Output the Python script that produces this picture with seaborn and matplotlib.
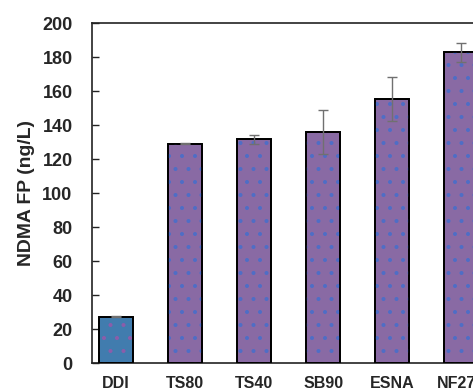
import matplotlib
matplotlib.use("Agg")
import matplotlib.pyplot as plt
import seaborn as sns
import pandas as pd

categories = ["DDI", "TS80", "TS40", "SB90", "ESNA", "NF270"]
values = [27.3, 129.0, 131.5, 135.9, 155.3, 182.9]
errors = [0.5, 0.4, 2.6, 12.7, 13.2, 5.6]
groups = ["DDI", "m", "m", "m", "m", "m"]

face_colors = {"DDI": "#2F7DC0", "m": "#8A61AD"}
dot_colors = {"DDI": "#8B5DAA", "m": "#4F6EC6"}

DPI = 78
k = 100 / DPI  # keep pixel sizes as designed for 100 dpi

sns.set_theme(style="white")
plt.rcParams["font.family"] = ["Liberation Sans", "DejaVu Sans"]
plt.rcParams["hatch.linewidth"] = 1.0 * k

df = pd.DataFrame({"cat": categories, "val": values, "grp": groups})

fig = plt.figure(figsize=(473 / DPI, 390 / DPI), dpi=DPI)
ax = fig.add_axes([0.1945, 0.0692, 0.8315, 0.8718])

sns.barplot(data=df, x="cat", y="val", hue="grp", palette=face_colors,
            dodge=False, width=0.5, edgecolor="black", linewidth=1.3 * k,
            legend=False, errorbar=None, ax=ax, zorder=2)

# dotted overlay
for p, g in zip(sorted(ax.patches, key=lambda r: r.get_x()), groups):
    if p.get_height() == 0:
        continue
    ov = plt.Rectangle((p.get_x(), p.get_y()), p.get_width(), p.get_height(),
                       facecolor="none", edgecolor=dot_colors[g], hatch=".",
                       linewidth=0, zorder=2.5)
    ax.add_patch(ov)
    ax.add_patch(plt.Rectangle((p.get_x(), p.get_y()), p.get_width(), p.get_height(),
                               facecolor="none", edgecolor="black", linewidth=1.3 * k,
                               zorder=2.6))

ax.errorbar(x=list(range(len(categories))), y=values, yerr=errors, fmt="none",
            ecolor="#707070", elinewidth=1.0 * k, capsize=3.5 * k, capthick=1.0 * k,
            zorder=3)

ax.set_xlim(-0.35, 5.35)
ax.set_ylim(0, 200)
ax.set_yticks(range(0, 201, 20))
ax.set_xlabel("")
ax.set_ylabel("NDMA FP (ng/L)", fontsize=14 * k, fontweight="bold")
ax.yaxis.set_label_coords(-0.145, 0.5)
ax.tick_params(axis="y", direction="in", length=5 * k, width=1 * k, pad=14 * k,
               labelsize=13 * k, left=True, color="#222222")
ax.tick_params(axis="x", length=0, pad=9 * k, labelsize=11.5 * k)
for lab in ax.get_xticklabels() + ax.get_yticklabels():
    lab.set_fontweight("bold")
for s in ["left", "bottom", "top", "right"]:
    ax.spines[s].set_color("#222222")
    ax.spines[s].set_linewidth(1.2 * k)

fig.savefig("out.png", dpi=DPI)
